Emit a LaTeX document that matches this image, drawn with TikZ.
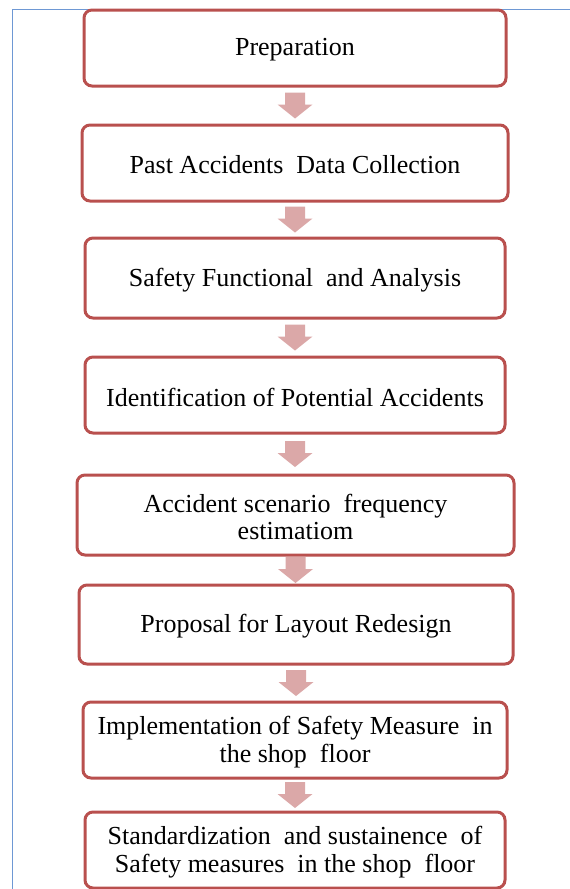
\documentclass[tikz,border=0pt]{standalone}
\usepackage{fontspec}
\setmainfont{Liberation Serif}
\usetikzlibrary{calc}

\definecolor{boxred}{RGB}{185,80,78}
\definecolor{arrowpink}{RGB}{219,168,168}
\definecolor{frameblue}{RGB}{110,152,212}

\tikzset{
  stepbox/.style={draw=boxred, line width=3pt, rounded corners=8pt, fill=white,
    align=center, inner sep=0pt, font=\fontsize{26}{27.5}\selectfont},
  steptext/.style={align=center, inner sep=0pt, font=\fontsize{26}{27.5}\selectfont},
  flowarrow/.style={fill=arrowpink, draw=none},
}

% block arrow centred in the gap between two boxes
\newcommand\blockarrow[2]{%
  \path let \p1=(#1.south), \p2=(#2.north),
            \n1={(\y1+\y2)/2} in
    [flowarrow] (\x1-10pt,\n1+13pt) -- (\x1+10pt,\n1+13pt) -- (\x1+10pt,\n1+1pt)
    -- (\x1+17.5pt,\n1+1pt) -- (\x1,\n1-13pt) -- (\x1-17.5pt,\n1+1pt)
    -- (\x1-10pt,\n1+1pt) -- cycle;}

% a process box with its caption set slightly below the centre
\newcommand\stepnode[5]{%
  \node[stepbox, minimum width=#2, minimum height=#3] (#1) at #4 {};
  \node[steptext] (#1-label) at ($(#1.center)+(0,-2)$) {#5};}

\begin{document}
\begin{tikzpicture}[x=1pt,y=1pt]
  \useasboundingbox (0,0) rectangle (570,-889);

  % outer frame (only its top and left edges fall inside the page)
  \draw[frameblue, line width=1pt] (12.5,-889) -- (12.5,-9.5) -- (570,-9.5);

  \stepnode{b1}{422}{76}{(295,-48)}{Preparation}
  \stepnode{b2}{426}{76}{(295,-163)}{Past Accidents\ \ Data Collection}
  \stepnode{b3}{420}{80}{(295,-278)}{Safety Functional\ \ and Analysis}
  \stepnode{b4}{420}{76}{(295,-395)}{Identification of Potential Accidents}
  \stepnode{b5}{437}{80}{(295.5,-515)}{Accident scenario\ \ frequency\\estimatiom}
  \stepnode{b6}{434}{79}{(296,-624.5)}{Proposal for Layout Redesign}
  \stepnode{b7}{424}{76}{(295,-740)}{Implementation of Safety Measure\ \ in\\the shop\ \ floor}
  \stepnode{b8}{420}{76}{(295,-850)}{Standardization\ \ and sustainence\ \ of\\Safety measures\ \ in the shop\ \ floor}

  \blockarrow{b1}{b2}
  \blockarrow{b2}{b3}
  \blockarrow{b3}{b4}
  \blockarrow{b4}{b5}
  \blockarrow{b5}{b6}
  \blockarrow{b6}{b7}
  \blockarrow{b7}{b8}
\end{tikzpicture}
\end{document}
